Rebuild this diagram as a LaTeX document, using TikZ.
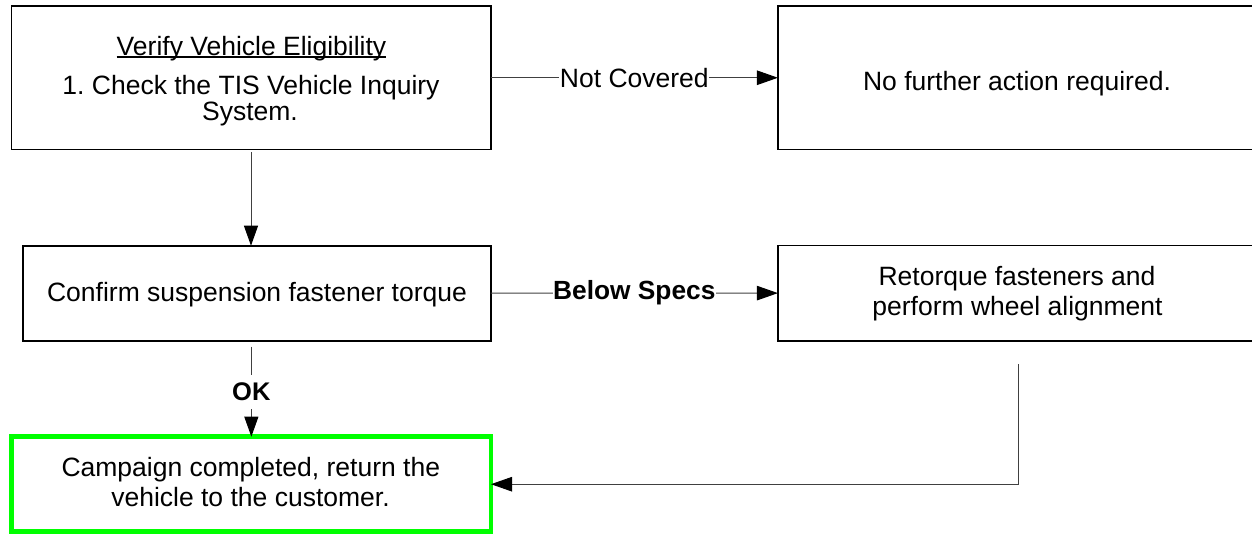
\documentclass[tikz,border=0pt]{standalone}
\usepackage{fontspec}
\setmainfont{Liberation Sans}
\usetikzlibrary{arrows.meta}
\definecolor{boxgreen}{RGB}{0,255,0}
\newsavebox{\ulbox}
\newcommand\myul[1]{\sbox{\ulbox}{#1}\rlap{\rule[-2.6pt]{\wd\ulbox}{1.3pt}}\usebox{\ulbox}}
\frenchspacing
\begin{document}
\begin{tikzpicture}[x=1pt,y=-1pt,
  box/.style={draw=black,line width=1.6pt,inner sep=0pt,outer sep=0pt,rectangle},
  gbox/.style={draw=boxgreen,line width=4.7pt,inner sep=0pt,outer sep=0pt,rectangle},
  txt/.style={anchor=base,inner sep=0pt,font=\fontsize{26.5}{30}\selectfont\frenchspacing},
  conn/.style={draw=black!75,line width=1pt},
  lbl/.style={fill=white,inner xsep=0.6pt,inner ysep=1pt,text=black},
  nlbl/.style={lbl,font=\fontsize{26.5}{30}\selectfont},
  blbl/.style={lbl,font=\bfseries\fontsize{26.3}{30}\selectfont},
  oklbl/.style={lbl,font=\bfseries\fontsize{25.5}{30}\selectfont},
  vtip/.style={-{Triangle[length=20pt,width=14pt,fill=black,color=black]}},
  htip/.style={-{Triangle[length=21pt,width=14.5pt,fill=black,color=black]}}
]
\useasboundingbox (0,0) rectangle (1252,533);
\clip (0,0) rectangle (1252,533);

% boxes
\node[box,minimum width=479.4pt,minimum height=143.5pt] (b1) at (251,77.75) {};
\node[box,minimum width=479.4pt,minimum height=143.5pt] (b2) at (1017.6,77.75) {};
\node[box,minimum width=468pt,minimum height=95pt] (b3) at (256.7,293.2) {};
\node[box,minimum width=479.4pt,minimum height=95.2pt] (b4) at (1017.6,293.1) {};
\node[gbox,minimum width=479.3pt,minimum height=95pt] (b5) at (251.35,484.2) {};

% texts
\node[txt] (t1a) at (251.5,55) {\myul{Verify Vehicle Eligibility}};
\node[txt] (t1b) at (251,94) {1. Check the TIS Vehicle Inquiry};
\node[txt] (t1c) at (250,120.7) {System.};
\node[txt] (t2) at (1017,90) {No further action required.};
\node[txt] (t3) at (257,301) {Confirm suspension fastener torque};
\node[txt] (t4a) at (1017,285) {Retorque fasteners and};
\node[txt] (t4b) at (1017.5,315) {perform wheel alignment};
\node[txt] (t5a) at (250.8,476.7) {Campaign completed, return the};
\node[txt] (t5b) at (250.5,506.7) {vehicle to the customer.};

% connectors
\draw[conn,htip] (b1.east) -- node[nlbl] (lnc) {Not Covered} (b2.west);
\draw[conn,vtip,shorten <=2.5pt] (b1.south) -- (b1.south |- b3.north);
\draw[conn,htip] (b3.east) -- node[blbl] (lbs) {Below Specs} (b4.west);
\draw[conn,vtip,shorten <=6pt] (b5.north |- b3.south) -- node[pos=0.53,oklbl,inner ysep=8pt] (lok) {OK} (b5.north);
\coordinate (r0) at (1018.5,364);
\draw[conn,htip] (r0) |- (b5.east);
\end{tikzpicture}
\end{document}
